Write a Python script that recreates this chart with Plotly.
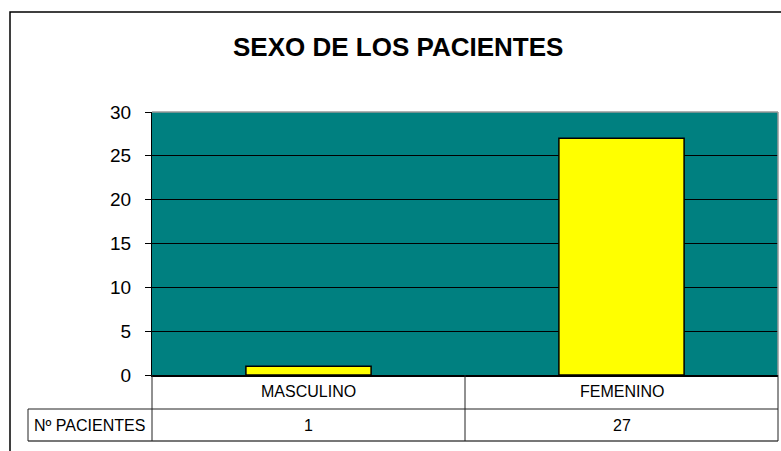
import plotly.graph_objects as go

categories = ["MASCULINO", "FEMENINO"]
patients = [1, 27]
row_label = "Nº PACIENTES"
title_text = "SEXO DE LOS PACIENTES"
y_ticks = [0, 5, 10, 15, 20, 25, 30]

W, H = 781, 451
L, R, T, B = 152, 778, 112, 375
FONT = "Liberation Sans, Arial, sans-serif"


def px(x):
    return (x - L) / (R - L)


def py(y):
    return (B - y) / (B - T)


fig = go.Figure()
fig.add_trace(go.Bar(
    x=categories, y=patients, width=0.4,
    marker=dict(color="#FFFF00", line=dict(color="black", width=1.5)),
    hoverinfo="x+y",
))

shapes = []
# outer chart border
shapes.append(dict(type="rect", xref="paper", yref="paper",
                   x0=px(10), x1=px(800), y0=py(470), y1=py(12),
                   line=dict(color="black", width=1.5), fillcolor="rgba(0,0,0,0)", layer="below"))
# plot-area border (gray top/right)
shapes.append(dict(type="line", xref="paper", yref="paper", x0=0, x1=1, y0=1, y1=1,
                   line=dict(color="#999999", width=1.5)))
shapes.append(dict(type="line", xref="paper", yref="paper", x0=1, x1=1, y0=0, y1=1,
                   line=dict(color="#999999", width=1.5)))
# data table lines
tline = dict(color="#222222", width=1)
row0, row1, row2 = 375, 409, 441
for y0, xa in [(row1, 28), (row2, 28)]:
    shapes.append(dict(type="line", xref="paper", yref="paper", x0=px(xa), x1=1,
                       y0=py(y0), y1=py(y0),
                       line=dict(color="#777777", width=2) if y0 == row2 else tline))
for xv, ytop in [(28, row1), (152, row0), (465, row0), (778, row0)]:
    shapes.append(dict(type="line", xref="paper", yref="paper", x0=px(xv), x1=px(xv),
                       y0=py(ytop), y1=py(row2), line=tline))

annotations = []
for c, v in zip(categories, patients):
    annotations.append(dict(x=c, xref="x", y=py(391), yref="paper", text=c, showarrow=False,
                            font=dict(family=FONT, size=16, color="black"),
                            xanchor="center", yanchor="middle"))
    annotations.append(dict(x=c, xref="x", y=py(425), yref="paper", text=str(v), showarrow=False,
                            font=dict(family=FONT, size=16, color="black"),
                            xanchor="center", yanchor="middle"))
annotations.append(dict(x=px(32), xref="paper", y=py(425), yref="paper", text=row_label,
                        showarrow=False, font=dict(family=FONT, size=16, color="black"),
                        xanchor="left", yanchor="middle"))
annotations.append(dict(x=px(398), xref="paper", y=py(47), yref="paper", text="<b>" + title_text + "</b>",
                        showarrow=False, font=dict(family=FONT, size=26, color="black"),
                        xanchor="center", yanchor="middle"))

fig.update_layout(
    width=W, height=H,
    margin=dict(l=L, r=W - R, t=T, b=H - B, pad=0),
    paper_bgcolor="white", plot_bgcolor="#008080",
    showlegend=False,
    shapes=shapes, annotations=annotations,
    xaxis=dict(range=[-0.5, 1.5], showticklabels=False, showgrid=False, zeroline=False,
               showline=True, linecolor="black", linewidth=1.5, ticks=""),
    yaxis=dict(range=[0, 30], tickvals=y_ticks, showgrid=True, gridcolor="black", gridwidth=1,
               zeroline=False, showline=True, linecolor="black", linewidth=1,
               ticks="outside", ticklen=6, tickcolor="black",
               ticklabelstandoff=10,
               tickfont=dict(family=FONT, size=19, color="black")),
    bargap=0.6,
)

fig.write_html(
    "out.html",
    config={"displayModeBar": False},
    post_script="document.body.style.margin='0';document.body.style.overflow='hidden';"
                "document.documentElement.style.overflow='hidden';",
)
